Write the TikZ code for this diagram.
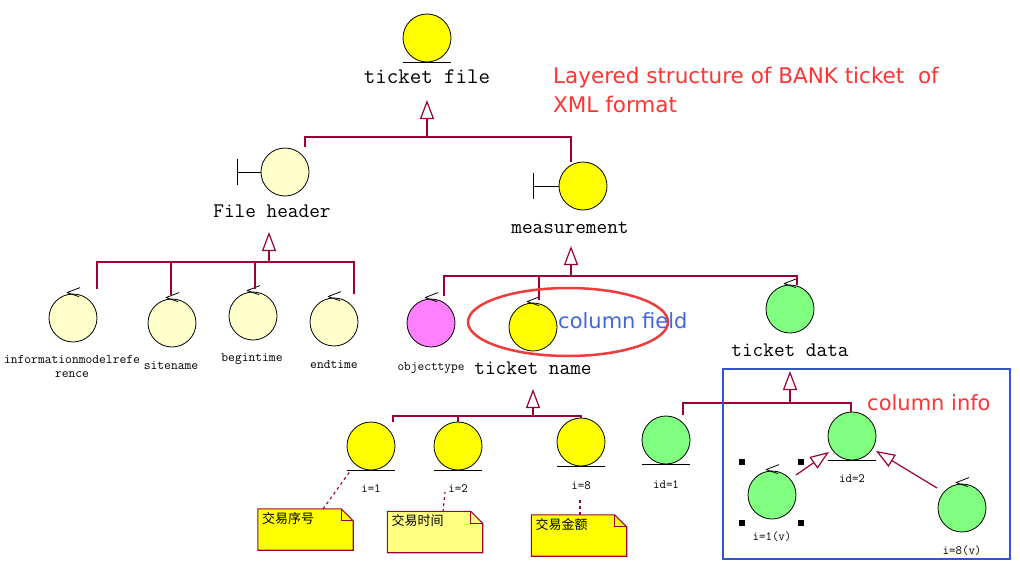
\documentclass[tikz,border=0pt]{standalone}
\usepackage{fontspec}
\newfontfamily\sansf{DejaVu Sans}
\newfontfamily\cjkf{Noto Sans CJK SC}
\usetikzlibrary{arrows.meta,calc,shapes.geometric}
\definecolor{yel}{HTML}{FFFF00}
\definecolor{lyel}{HTML}{FFFFCC}
\definecolor{mag}{HTML}{FF80FF}
\definecolor{grn}{HTML}{80FF80}
\definecolor{lnred}{HTML}{990033}
\definecolor{notebd}{HTML}{A00040}
\definecolor{note2}{HTML}{FFFF80}
\definecolor{txtred}{HTML}{FF3333}
\definecolor{ellred}{HTML}{EE3B3B}
\definecolor{txtblue}{HTML}{4466DD}
\definecolor{rectblue}{HTML}{3355CC}
\begin{document}
\begin{tikzpicture}[x=1pt,y=-1pt,
  obj/.style={circle, draw=black, line width=0.8pt, minimum size=48pt, inner sep=0pt},
  blk/.style={draw=black, line width=0.8pt},
  gl/.style={draw=lnred, line width=1.2pt},
  gen/.style={gl, -{Triangle[open, length=19pt, width=14pt, fill=white]}},
  bigl/.style={font=\ttfamily\fontsize{20.7}{23}\selectfont, inner sep=0pt},
  smalll/.style={font=\ttfamily\fontsize{12.6}{13.5}\selectfont, inner sep=0pt},
  notebox/.style={inner sep=0pt, minimum width=95pt, minimum height=41pt},
  notetxt/.style={font=\cjkf\fontsize{13}{14}\selectfont, inner sep=0pt, anchor=north west},
  notelink/.style={draw=lnred, line width=1.1pt, dash pattern=on 3pt off 3pt},
  handle/.style={fill=black, minimum size=6pt, inner sep=0pt},
  annot/.style={font=\sansf\fontsize{21}{25}\selectfont, anchor=base west, inner sep=0pt}
]
\useasboundingbox (0,0) rectangle (1020,562);

% ---------- objects ----------
\node[obj, fill=yel]  (tf)  at (427,38)  {};
\node[obj, fill=lyel] (fh)  at (285,172) {};
\node[obj, fill=yel]  (ms)  at (583,186) {};
\node[obj, fill=lyel] (imr) at (73,318)  {};
\node[obj, fill=lyel] (sn)  at (172,323) {};
\node[obj, fill=lyel] (bt)  at (253,316) {};
\node[obj, fill=lyel] (et)  at (334,322) {};
\node[obj, fill=mag]  (ot)  at (431,323) {};
\node[obj, fill=yel]  (tn)  at (533,327) {};
\node[obj, fill=grn]  (td)  at (790,309) {};
\node[obj, fill=yel]  (i1)  at (371,446) {};
\node[obj, fill=yel]  (i2)  at (458,446) {};
\node[obj, fill=yel]  (i8)  at (581,442) {};
\node[obj, fill=grn]  (id1) at (666,440) {};
\node[obj, fill=grn]  (id2) at (852,436) {};
\node[obj, fill=grn]  (iv1) at (772,495) {};
\node[obj, fill=grn]  (iv8) at (962,508) {};

% entity underlines
\foreach \n in {tf,i1,i2,i8,id1,id2}
  \draw[blk] ([xshift=-24pt]\n.south) -- ([xshift=24pt]\n.south);
% control marks
\foreach \n in {imr,sn,bt,et,ot,tn,td,iv1,iv8}
  \draw[blk] ([xshift=-6pt,yshift=1pt]\n.north) -- ++(13,-5)
             ([xshift=-6pt,yshift=1pt]\n.north) -- ++(12,4);
% boundary marks
\draw[blk] (fh.west) -- ++(-23,0) coordinate (fhT);
\draw[blk] ([yshift=13pt]fhT) -- ([yshift=-13pt]fhT);
\draw[blk] (ms.west) -- ++(-25,0) coordinate (msT);
\draw[blk] ([yshift=13pt]msT) -- ([yshift=-13pt]msT);

% ---------- labels ----------
\node[font=\ttfamily\fontsize{22.3}{24}\selectfont, inner sep=0pt] (tfl) at (427,77) {ticket file};
\node[bigl] (fhl) at (272,211) {File header};
\node[bigl] (msl) at (570,228) {measurement};
\node[bigl] (tnl) at (533,368) {ticket name};
\node[bigl] (tdl) at (790,350) {ticket data};
\node[smalll, font=\ttfamily\fontsize{13.2}{13.5}\selectfont, align=center] (imrl) at (72,366.5) {informationmodelrefe\\rence};
\node[smalll, font=\ttfamily\fontsize{13.2}{13.5}\selectfont] (snl) at (171,366) {sitename};
\node[smalll, font=\ttfamily\fontsize{13.2}{13.5}\selectfont] (btl) at (252,359) {begintime};
\node[smalll, font=\ttfamily\fontsize{13.2}{13.5}\selectfont] (etl) at (334,365) {endtime};
\node[smalll, font=\ttfamily\fontsize{13}{13.5}\selectfont] (otl) at (431,368) {objecttype};
\node[smalll] (i1l) at (371,489) {i=1};
\node[smalll] (i2l) at (458,489) {i=2};
\node[smalll] (i8l) at (581,486) {i=8};
\node[smalll] (id1l) at (666,485) {id=1};
\node[smalll] (id2l) at (852,479) {id=2};
\node[smalll] (iv1l) at (772,537) {i=1(v)};
\node[smalll] (iv8l) at (962,551) {i=8(v)};

% ---------- generalization trees ----------
% ticket file
\coordinate (tfa) at (427,100);
\coordinate (tfb) at (427,137);
\coordinate (fhj) at (305,147);
\coordinate (msj) at (571,162);
\draw[gl] (fhj) -- (fhj |- tfb) -- (msj |- tfb) -- (msj);
\draw[gen] (tfb) -- (tfa);
% file header
\coordinate (fha) at (269,232);
\coordinate (fhb) at (269,262);
\coordinate (imrj) at (97,289);
\coordinate (snj) at (171,295);
\coordinate (btj) at (255,289);
\coordinate (etj) at (354,294);
\draw[gl] (imrj) -- (imrj |- fhb) -- (etj |- fhb) -- (etj);
\draw[gl] (snj) -- (snj |- fhb);
\draw[gl] (btj) -- (btj |- fhb);
\draw[gen] (fhb) -- (fha);
% measurement
\coordinate (msa) at (571,246);
\coordinate (msb) at (571,276);
\coordinate (otj) at (444,296);
\coordinate (tnj) at (539,300);
\coordinate (tdj) at (797,285);
\draw[gl] (otj) -- (otj |- msb) -- (tdj |- msb) -- (tdj);
\draw[gl] (tnj) -- (tnj |- msb);
\draw[gen] (msb) -- (msa);
% ticket name
\coordinate (tna) at (533,389);
\coordinate (tnb) at (533,416);
\coordinate (i1j) at (393,422);
\coordinate (i2j) at (458,422);
\coordinate (i8j) at (581,418);
\draw[gl] (i1j) -- (i1j |- tnb) -- (i8j |- tnb) -- (i8j);
\draw[gl] (i2j) -- (i2j |- tnb);
\draw[gen] (tnb) -- (tna);
% ticket data
\coordinate (tda) at (790,371);
\coordinate (tdb) at (790,403);
\coordinate (id1j) at (683,415);
\coordinate (id2j) at (851,412);
\draw[gl] (id1j) -- (id1j |- tdb) -- (id2j |- tdb) -- (id2j);
\draw[gen] (tdb) -- (tda);
% column info children
\coordinate (v1s) at (796,475);
\coordinate (v1t) at (829,452);
\coordinate (v8s) at (937,488);
\coordinate (v8t) at (876,451);
\draw[gen] (v1s) -- (v1t);
\draw[gen] (v8s) -- (v8t);

% selection handles
\node[handle] (h1) at (742,462) {};
\node[handle] (h2) at (801,462) {};
\node[handle] (h3) at (742,523) {};
\node[handle] (h4) at (801,523) {};

% ---------- notes ----------
\node[notebox] (n1) at (305.5,529.5) {};
\node[notebox] (n2) at (435,532) {};
\node[notebox] (n3) at (579,535.5) {};
\foreach \n/\c in {n1/yel,n2/note2,n3/yel}{
  \draw[draw=notebd, line width=1.1pt, fill=\c]
    (\n.north west) -- ([xshift=-12pt]\n.north east) -- ([yshift=-12pt]\n.north east)
    -- (\n.south east) -- (\n.south west) -- cycle;
  \draw[draw=notebd, line width=0.8pt]
    ([xshift=-12pt]\n.north east) -- ([xshift=-12pt,yshift=-12pt]\n.north east)
    -- ([yshift=-12pt]\n.north east);
}
\node[notetxt] (n1t) at ([shift={(4pt,-3pt)}]n1.north west) {交易序号};
\node[notetxt] (n2t) at ([shift={(4pt,-3pt)}]n2.north west) {交易时间};
\node[notetxt] (n3t) at ([shift={(4pt,-3pt)}]n3.north west) {交易金额};
\coordinate (n1a) at (323,509);
\coordinate (n1b) at (351,470);
\coordinate (n2a) at (443,512);
\coordinate (n2b) at (445,492);
\coordinate (n3a) at (580,515);
\coordinate (n3b) at (580,497);
\draw[notelink] (n1a) -- (n1b);
\draw[notelink] (n2a) -- (n2b);
\draw[notelink] (n3a) -- (n3b);

% ---------- annotations ----------
\node[draw=ellred, line width=2.5pt, ellipse, minimum width=200pt, minimum height=68pt, inner sep=0pt] (cfe) at (568,322) {};
\node[annot, text=txtblue] (cft) at (558,328) {column field};
\draw[draw=rectblue, line width=2.8pt] (723,369) rectangle (1010,559);
\node[annot, text=txtred] (cit) at (867,410) {column info};
\node[annot, text=txtred, font=\sansf\fontsize{21.5}{25}\selectfont] (tt1) at (553,83) {Layered structure of BANK ticket\ \ of};
\node[annot, text=txtred, font=\sansf\fontsize{21.5}{25}\selectfont] (tt2) at (553,112) {XML format};
\end{tikzpicture}
\end{document}
